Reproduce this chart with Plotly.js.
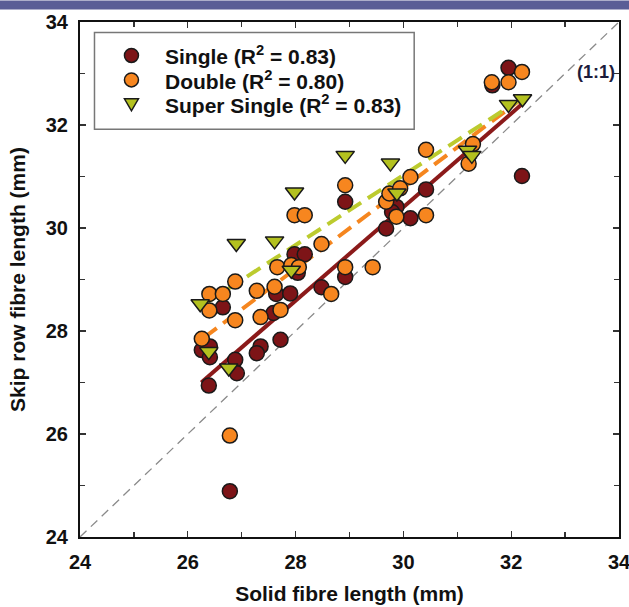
<!DOCTYPE html>
<html>
<head>
<meta charset="utf-8">
<script src="https://cdn.plot.ly/plotly-3.0.1.min.js"></script>
<style>
html,body{margin:0;padding:0;background:#fff;}
#chart{width:629px;height:607px;}
</style>
</head>
<body>
<div id="chart"></div>
<script>
// Single (dark red circles)
var singleX = [26.78, 26.26, 26.41, 26.41, 26.39, 26.88, 26.91, 27.35, 27.28, 27.72, 26.65, 27.64, 27.59, 27.90, 27.98, 28.17, 28.04, 28.48, 28.92, 28.92, 30.42, 29.87, 29.79, 30.13, 29.68, 31.95, 31.65, 32.20];
var singleY = [24.89, 27.63, 27.70, 27.49, 26.94, 27.44, 27.18, 27.70, 27.57, 27.83, 28.46, 28.72, 28.35, 28.73, 29.49, 29.49, 29.13, 28.85, 30.51, 29.05, 30.75, 30.41, 30.31, 30.19, 29.99, 33.11, 32.77, 31.01];
// Double (orange circles)
var doubleX = [26.26, 26.40, 26.65, 26.40, 26.88, 26.88, 26.78, 27.28, 27.35, 27.61, 27.72, 27.66, 27.92, 28.06, 27.98, 28.17, 28.48, 28.66, 28.92, 28.92, 29.43, 29.68, 29.74, 29.94, 30.13, 30.42, 29.87, 30.42, 31.29, 31.21, 31.64, 31.95, 32.20];
var doubleY = [27.85, 28.72, 28.72, 28.40, 28.21, 28.96, 25.97, 28.78, 28.27, 28.86, 28.41, 29.24, 29.28, 29.24, 30.25, 30.25, 29.69, 28.72, 30.83, 29.24, 29.24, 30.51, 30.67, 30.77, 30.99, 31.52, 30.22, 30.25, 31.63, 31.25, 32.83, 32.83, 33.03];
// Super Single (yellow-green triangles)
var superX = [26.23, 26.39, 26.76, 26.90, 27.61, 27.98, 27.92, 28.92, 29.76, 29.88, 31.19, 31.27, 31.95, 32.21];
var superY = [28.53, 27.60, 27.28, 29.70, 29.75, 30.70, 29.18, 31.41, 31.26, 30.68, 31.51, 31.41, 32.40, 32.51];
// Fitted regression lines (end points)
var singleFitX = [26.25, 32.25], singleFitY = [27.00, 32.45];
var doubleFitX = [26.30, 32.25], doubleFitY = [27.87, 32.55];
var superFitX = [26.35, 32.25], superFitY = [28.55, 32.55];
// 1:1 line
var oneX = [24, 34], oneY = [24, 34];
var legendNames = ['Single (R<sup>2</sup> = 0.83)', 'Double (R<sup>2</sup> = 0.80)', 'Super Single (R<sup>2</sup> = 0.83)'];
var legendSymbols = ['circle', 'circle', 'triangle-down'];

var cSingle = '#7d1417', cDouble = '#f7861f', cSuper = '#b3c11f';
var legendColors = [cSingle, cDouble, cSuper];
var edge = {color: '#1a1a1a', width: 1.5};

var traces = [
  {x: oneX, y: oneY, mode: 'lines', line: {color: '#8a8a8a', width: 1.3, dash: '9px,6px'}, showlegend: false, hoverinfo: 'skip'},
  {x: singleFitX, y: singleFitY, mode: 'lines', line: {color: '#8b1a1a', width: 4}, showlegend: false},
  {x: doubleFitX, y: doubleFitY, mode: 'lines', line: {color: '#f5861f', width: 4, dash: '16px,8px'}, showlegend: false},
  {x: superFitX, y: superFitY, mode: 'lines', line: {color: '#bccb2e', width: 4, dash: '16px,8px'}, showlegend: false},
  {x: singleX, y: singleY, mode: 'markers', name: legendNames[0], showlegend: false, marker: {symbol: 'circle', size: 15, color: cSingle, line: edge}},
  {x: doubleX, y: doubleY, mode: 'markers', name: legendNames[1], showlegend: false, marker: {symbol: 'circle', size: 15, color: cDouble, line: edge}},
  {x: superX, y: superY, mode: 'markers', name: legendNames[2], showlegend: false, marker: {symbol: 'triangle-down', size: 16, color: cSuper, line: edge}}
];

var ff = 'Liberation Sans, Arial, sans-serif';
var font = {family: ff, color: '#111', weight: 'bold'};
function axis(title) {
  return {
    range: [24, 34], dtick: 2, tick0: 24,
    showgrid: false, zeroline: false,
    showline: true, linecolor: '#111', linewidth: 2, mirror: 'ticks',
    ticks: 'inside', ticklen: 6, tickwidth: 1.2, tickcolor: '#333',
    minor: {dtick: 1, ticks: 'inside', ticklen: 5, tickwidth: 1.2, tickcolor: '#333'},
    tickfont: Object.assign({}, font, {size: 20}),
    ticklabelstandoff: 6,
    ticklabeloverflow: 'allow',
    title: {text: title, font: Object.assign({}, font, {size: 21})}
  };
}
var xa = axis('Solid fibre length (mm)');
xa.title.standoff = 14;
var ya = axis('Skip row fibre length (mm)');
ya.title.standoff = 14;

// plot-area pixel geometry for the hand-built legend box
var L = 79.5, T = 21.5, W = 539.5, H = 516;
function px(v) { return (v - L) / W; }
function py(v) { return 1 - (v - T) / H; }

var shapes = [
  {type: 'rect', xref: 'paper', yref: 'paper', x0: -0.2, x1: 1.1, y0: py(9), y1: py(0),
   fillcolor: '#5a5e96', line: {width: 0}, layer: 'above'},
  {type: 'rect', xref: 'paper', yref: 'paper', x0: px(94), x1: px(414), y0: py(129), y1: py(32),
   fillcolor: '#fff', line: {color: '#777', width: 1.5}, layer: 'above'}
];
var annotations = [
  {x: 33.57, y: 33.02, xref: 'x', yref: 'y', text: '(1:1)', showarrow: false,
   font: {family: ff, size: 18, color: '#1c1c3c', weight: 'bold'}}
];
var rowY = [55, 79.5, 103.5];
for (var i = 0; i < legendNames.length; i++) {
  var ay = py(rowY[i]);
  if (legendSymbols[i] === 'circle') {
    shapes.push({type: 'circle', xref: 'paper', yref: 'paper', xsizemode: 'pixel', ysizemode: 'pixel',
      xanchor: px(131), yanchor: ay, x0: -7, x1: 7, y0: -7, y1: 7,
      fillcolor: legendColors[i], line: {color: '#1a1a1a', width: 1.5}, layer: 'above'});
  } else {
    shapes.push({type: 'path', xref: 'paper', yref: 'paper', xsizemode: 'pixel', ysizemode: 'pixel',
      xanchor: px(131), yanchor: ay, path: 'M -7 5 L 7 5 L 0 -7 Z',
      fillcolor: legendColors[i], line: {color: '#1a1a1a', width: 1.5}, layer: 'above'});
  }
  annotations.push({x: px(163), y: ay, xref: 'paper', yref: 'paper', xanchor: 'left', yanchor: 'middle',
    text: legendNames[i], showarrow: false, font: {family: ff, size: 21, color: '#111', weight: 'bold'}});
}

var layout = {
  width: 629, height: 607,
  margin: {l: L, r: 629 - L - W, t: T, b: 607 - T - H},
  paper_bgcolor: '#fff', plot_bgcolor: '#fff',
  xaxis: xa, yaxis: ya,
  showlegend: false,
  annotations: annotations,
  shapes: shapes
};

Plotly.newPlot('chart', traces, layout, {displayModeBar: false, staticPlot: true});
</script>
</body>
</html>
